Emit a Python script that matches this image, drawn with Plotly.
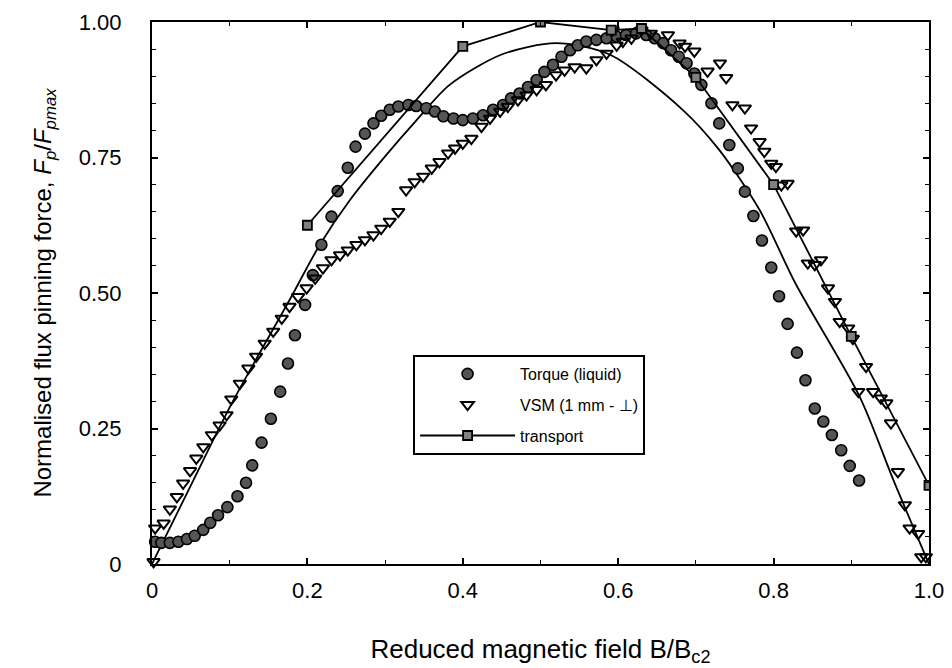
import plotly.graph_objects as go

# ---------------- data ----------------
torque_x = [0.004, 0.012, 0.023, 0.034, 0.045, 0.055, 0.066, 0.075, 0.085, 0.097,
            0.110, 0.121, 0.129, 0.141, 0.153, 0.165, 0.175, 0.184, 0.197, 0.207,
            0.218, 0.231, 0.239, 0.252, 0.262, 0.274, 0.285, 0.295, 0.306, 0.317,
            0.330, 0.340, 0.353, 0.364, 0.375, 0.388, 0.400, 0.413, 0.426, 0.439,
            0.452, 0.462, 0.473, 0.484, 0.495, 0.505, 0.516, 0.527, 0.538, 0.548,
            0.559, 0.572, 0.585, 0.598, 0.610, 0.623, 0.636, 0.647, 0.658, 0.668,
            0.678, 0.688, 0.698, 0.707, 0.720, 0.730, 0.743, 0.754, 0.763, 0.774,
            0.785, 0.797, 0.807, 0.818, 0.830, 0.841, 0.853, 0.864, 0.875, 0.887,
            0.898, 0.910]
torque_y = [0.041, 0.039, 0.039, 0.041, 0.046, 0.052, 0.063, 0.076, 0.090, 0.105,
            0.125, 0.150, 0.182, 0.224, 0.268, 0.318, 0.370, 0.422, 0.478, 0.533,
            0.589, 0.641, 0.688, 0.731, 0.770, 0.794, 0.813, 0.827, 0.838, 0.844,
            0.847, 0.845, 0.841, 0.835, 0.826, 0.822, 0.819, 0.822, 0.828, 0.838,
            0.847, 0.859, 0.868, 0.880, 0.893, 0.908, 0.921, 0.936, 0.948, 0.957,
            0.964, 0.967, 0.970, 0.973, 0.976, 0.979, 0.976, 0.970, 0.961, 0.948,
            0.936, 0.924, 0.905, 0.884, 0.850, 0.813, 0.773, 0.730, 0.687, 0.642,
            0.597, 0.547, 0.494, 0.443, 0.390, 0.339, 0.287, 0.263, 0.238, 0.210,
            0.181, 0.154]

vsm_x = [0.002, 0.004, 0.015, 0.023, 0.032, 0.040, 0.049, 0.057, 0.066, 0.077,
         0.087, 0.096, 0.102, 0.113, 0.124, 0.134, 0.145, 0.156, 0.167, 0.177,
         0.188, 0.199, 0.210, 0.220, 0.231, 0.242, 0.252, 0.263, 0.274, 0.285,
         0.295, 0.306, 0.317, 0.327, 0.338, 0.349, 0.360, 0.370, 0.381, 0.390,
         0.400, 0.411, 0.424, 0.435, 0.448, 0.458, 0.471, 0.482, 0.495, 0.507,
         0.520, 0.531, 0.544, 0.559, 0.572, 0.585, 0.593, 0.598, 0.606, 0.617,
         0.630, 0.642, 0.664, 0.679, 0.686, 0.698, 0.715, 0.731, 0.739, 0.747,
         0.763, 0.771, 0.782, 0.788, 0.797, 0.803, 0.810, 0.818, 0.829, 0.838,
         0.844, 0.853, 0.861, 0.870, 0.879, 0.885, 0.896, 0.902, 0.909, 0.919,
         0.928, 0.938, 0.945, 0.951, 0.960, 0.969, 0.975, 0.986, 0.990, 0.996]
vsm_y = [0.004, 0.066, 0.075, 0.101, 0.124, 0.149, 0.172, 0.195, 0.216, 0.238,
         0.256, 0.275, 0.304, 0.333, 0.361, 0.383, 0.407, 0.429, 0.453, 0.475,
         0.493, 0.509, 0.527, 0.546, 0.561, 0.570, 0.579, 0.589, 0.598, 0.607,
         0.619, 0.632, 0.650, 0.690, 0.705, 0.715, 0.730, 0.742, 0.758, 0.767,
         0.776, 0.785, 0.807, 0.822, 0.835, 0.844, 0.856, 0.865, 0.875, 0.884,
         0.902, 0.911, 0.917, 0.915, 0.930, 0.942, 0.985, 0.957, 0.964, 0.970,
         0.985, 0.979, 0.976, 0.961, 0.955, 0.946, 0.909, 0.924, 0.897, 0.847,
         0.841, 0.804, 0.779, 0.761, 0.739, 0.733, 0.699, 0.702, 0.614, 0.616,
         0.555, 0.552, 0.561, 0.509, 0.484, 0.447, 0.435, 0.416, 0.318, 0.364,
         0.318, 0.306, 0.297, 0.260, 0.170, 0.109, 0.066, 0.056, 0.013, 0.013]

transport_x = [0.2, 0.4, 0.5, 0.591, 0.630, 0.70, 0.80, 0.90, 1.0]
transport_y = [0.625, 0.955, 1.0, 0.985, 0.988, 0.898, 0.70, 0.42, 0.145]

fit_x = [0.0, 0.05, 0.104, 0.177, 0.216, 0.255, 0.30, 0.34, 0.383, 0.45,
         0.52, 0.589, 0.683, 0.73, 0.782, 0.828, 0.911, 0.955, 1.0]
fit_y = [0.0, 0.145, 0.30, 0.487, 0.589, 0.672, 0.752, 0.818, 0.884, 0.940,
         0.961, 0.940, 0.838, 0.764, 0.653, 0.518, 0.308, 0.152, 0.0]

x_ticks = [0, 0.2, 0.4, 0.6, 0.8, 1.0]
x_ticktext = ["0", "0.2", "0.4", "0.6", "0.8", "1.0"]
y_ticks = [0, 0.25, 0.5, 0.75, 1.0]
y_ticktext = ["0", "0.25", "0.50", "0.75", "1.00"]

FONT = "Liberation Sans, Arial, sans-serif"

fig = go.Figure()

# fitted curve (no legend entry)
fig.add_trace(go.Scatter(x=fit_x, y=fit_y, mode="lines", showlegend=False,
                         line=dict(color="black", width=1.8, shape="spline", smoothing=0.8),
                         hoverinfo="skip"))

fig.add_trace(go.Scatter(x=torque_x, y=torque_y, mode="markers", name="Torque (liquid)",
                         cliponaxis=False, legendgroup="a",
                         marker=dict(symbol="circle", size=11, color="#555555",
                                     line=dict(color="black", width=1.6))))

fig.add_trace(go.Scatter(x=vsm_x, y=vsm_y, mode="markers", name="VSM (1 mm - \u22a5)",
                         cliponaxis=False, legendgroup="b",
                         marker=dict(symbol="triangle-down-open", size=11, color="black",
                                     line=dict(color="black", width=2))))

fig.add_trace(go.Scatter(x=transport_x, y=transport_y, mode="lines+markers", name="transport",
                         legendgroup="c",
                         line=dict(color="black", width=1.8),
                         marker=dict(symbol="square", size=9, color="#808080",
                                     line=dict(color="black", width=1.8))))

axis_common = dict(showline=True, linecolor="black", linewidth=2, mirror="ticks",
                   ticks="inside", ticklen=6, tickwidth=1.5, tickcolor="black",
                   showgrid=False, zeroline=False, automargin=False,
                   tickfont=dict(family=FONT, size=22, color="black"))

fig.update_xaxes(range=[0, 1], tickvals=x_ticks, ticktext=x_ticktext,
                 minor=dict(dtick=0.1, ticks="inside", ticklen=4, tickcolor="black", tickwidth=1.2),
                 title=dict(text="Reduced magnetic field B/B<sub>c2</sub>",
                            font=dict(family=FONT, size=26, color="black"), standoff=37),
                 ticklabelstandoff=6,
                 **axis_common)
fig.update_yaxes(range=[0, 1], tickvals=y_ticks, ticktext=y_ticktext,
                 minor=dict(dtick=0.05, ticks="inside", ticklen=4, tickcolor="black", tickwidth=1.2),
                 title=dict(text="\u00a0\u00a0\u00a0Normalised flux pinning force, <i>F</i><sub><i>p</i></sub>/<i>F</i><sub><i>pmax</i></sub>",
                            font=dict(family=FONT, size=24, color="black"), standoff=20),
                 ticklabelstandoff=24,
                 **axis_common)

fig.update_layout(
    width=944, height=660,
    margin=dict(l=144, r=23, t=14, b=104),
    paper_bgcolor="white", plot_bgcolor="white",
    font=dict(family=FONT, color="black"),
    legend=dict(x=0.336, y=0.3856, xanchor="left", yanchor="top",
                bgcolor="white", bordercolor="black", borderwidth=2,
                font=dict(family=FONT, size=16, color="black"),
                itemwidth=95, tracegroupgap=7, traceorder="grouped"),
)

fig.write_html("out.html")
